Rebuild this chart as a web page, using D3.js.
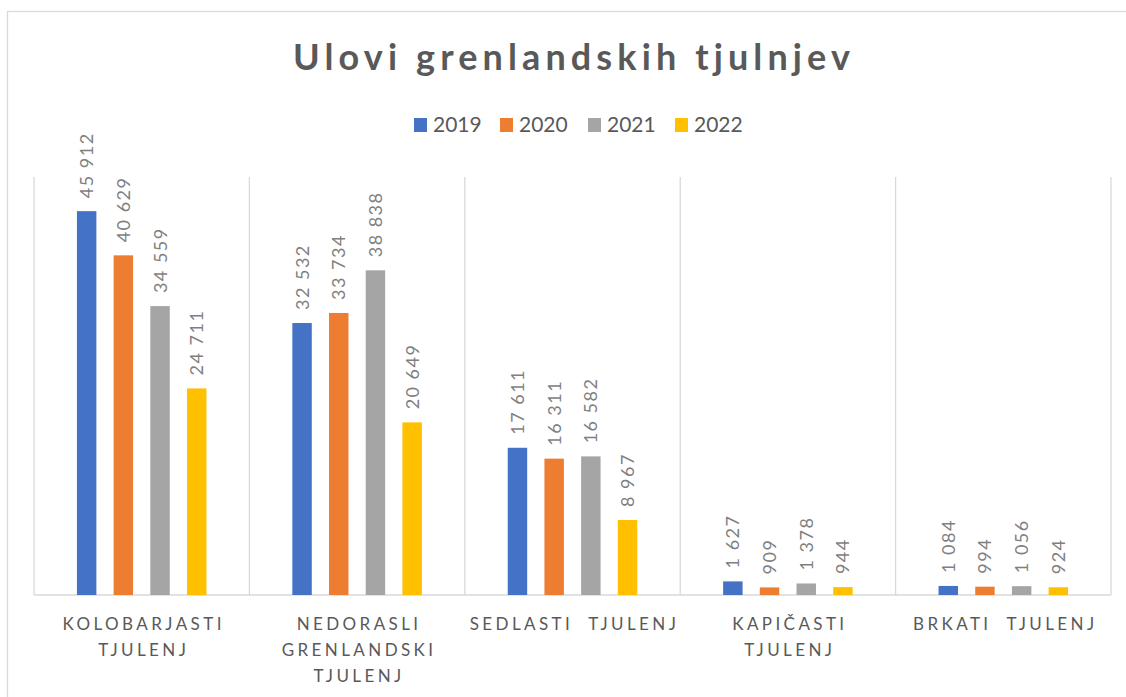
<!DOCTYPE html>
<html>
<head>
<meta charset="utf-8">
<script src="https://cdn.jsdelivr.net/npm/d3@7"></script>
<style>
  body { margin: 0; background: #fff; }
  svg { display: block; font-family: Lato, "Open Sans", sans-serif; }
</style>
</head>
<body>
<script>
// podatki
var kategorije = ["KOLOBARJASTI TJULENJ", "NEDORASLI GRENLANDSKI TJULENJ", "SEDLASTI  TJULENJ", "KAPIČASTI TJULENJ", "BRKATI  TJULENJ"];
var vrstice = [["KOLOBARJASTI", "TJULENJ"], ["NEDORASLI", "GRENLANDSKI", "TJULENJ"], ["SEDLASTI  TJULENJ"], ["KAPIČASTI", "TJULENJ"], ["BRKATI  TJULENJ"]];
var leta = ["2019", "2020", "2021", "2022"];
var v2019 = [45912, 32532, 17611, 1627, 1084];
var v2020 = [40629, 33734, 16311, 909, 994];
var v2021 = [34559, 38838, 16582, 1378, 1056];
var v2022 = [24711, 20649, 8967, 944, 924];
var barve = ["#4472c4", "#ed7d31", "#a5a5a5", "#ffc000"];

var serije = [v2019, v2020, v2021, v2022];

var w = 1126, h = 697;
var margin = { top: 177, bottom: 102, left: 34, right: 15 };

var svg = d3.select("body").append("svg")
    .attr("width", w).attr("height", h);

// okvir
svg.append("rect")
    .attr("x", 7.5).attr("y", 11.5)
    .attr("width", w + 20).attr("height", h + 20)
    .attr("fill", "#fff").attr("stroke", "#d9d9d9").attr("stroke-width", 1.3);

// naslov
svg.append("text")
    .attr("x", 293).attr("y", 70)
    .attr("textLength", 557).attr("lengthAdjust", "spacing")
    .attr("font-size", 36).attr("font-weight", "bold")
    .attr("fill", "#595959")
    .text("Ulovi grenlandskih tjulnjev");

var x = d3.scaleBand()
    .domain(kategorije)
    .range([margin.left, w - margin.right])
    .padding(0);

var xs = d3.scaleBand()
    .domain(leta)
    .range([0, x.bandwidth()])
    .paddingInner(0.47)
    .paddingOuter(1.17);

var y = d3.scaleLinear()
    .domain([0, 50000])
    .range([h - margin.bottom, margin.top]);

// mreža
var meje = kategorije.map(function (d) { return x(d); }).concat([x.range()[1]]);
svg.selectAll("line.mreza")
    .data(meje)
    .enter().append("line")
    .attr("class", "mreza")
    .attr("x1", function (d) { return d; }).attr("x2", function (d) { return d; })
    .attr("y1", y(50000)).attr("y2", y(0))
    .attr("stroke", "#d9d9d9").attr("stroke-width", 1.3);

svg.append("line")
    .attr("x1", x.range()[0]).attr("x2", x.range()[1])
    .attr("y1", y(0)).attr("y2", y(0))
    .attr("stroke", "#d9d9d9").attr("stroke-width", 1.3);

// stolpci
var skupine = svg.selectAll("g.serija")
    .data(serije)
    .enter().append("g")
    .attr("class", "serija")
    .attr("fill", function (d, i) { return barve[i]; });

skupine.selectAll("rect")
    .data(function (d, i) {
        return d.map(function (v, j) { return { kat: kategorije[j], leto: leta[i], v: v }; });
    })
    .enter().append("rect")
    .attr("x", function (d) { return x(d.kat) + xs(d.leto); })
    .attr("y", function (d) { return y(d.v); })
    .attr("width", xs.bandwidth())
    .attr("height", function (d) { return y(0) - y(d.v); });

// oznake vrednosti
var fmt = function (v) { return d3.format(",")(v).replace(/,/g, " "); };
skupine.selectAll("text")
    .data(function (d, i) {
        return d.map(function (v, j) { return { kat: kategorije[j], leto: leta[i], v: v }; });
    })
    .enter().append("text")
    .attr("transform", function (d) {
        var cx = x(d.kat) + xs(d.leto) + xs.bandwidth() / 2 + 6.5;
        return "translate(" + cx + "," + (y(d.v) - 13) + ") rotate(-90)";
    })
    .attr("font-size", 18)
    .attr("letter-spacing", 1.5)
    .attr("fill", "#7f7f7f")
    .text(function (d) { return fmt(d.v); });

// oznake kategorij
var osX = svg.selectAll("text.kat")
    .data(kategorije)
    .enter().append("text")
    .attr("class", "kat")
    .attr("text-anchor", "middle")
    .attr("font-size", 17)
    .attr("letter-spacing", 3.4)
    .attr("fill", "#595959");

osX.selectAll("tspan")
    .data(function (d, i) { return vrstice[i].map(function (t) { return { t: t, k: d }; }); })
    .enter().append("tspan")
    .attr("x", function (d) { return x(d.k) + x.bandwidth() / 2 + 2; })
    .attr("y", function (d, i) { return 630 + i * 26; })
    .attr("xml:space", "preserve")
    .style("white-space", "pre")
    .text(function (d) { return d.t; });

// legenda
var legX = [414, 500, 588, 675];
var leg = svg.selectAll("g.leg")
    .data(leta)
    .enter().append("g")
    .attr("class", "leg")
    .attr("transform", function (d, i) { return "translate(" + legX[i] + ",118)"; });
leg.append("rect")
    .attr("width", 13).attr("height", 14)
    .attr("fill", function (d, i) { return barve[i]; });
leg.append("text")
    .attr("x", 19).attr("y", 14)
    .attr("font-size", 21)
    .attr("fill", "#595959")
    .text(function (d) { return d; });
</script>
</body>
</html>
